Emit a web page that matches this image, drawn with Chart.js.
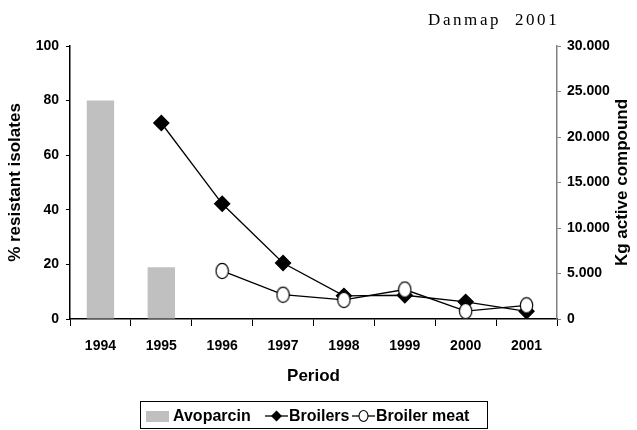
<!DOCTYPE html>
<html><head><meta charset="utf-8">
<script src="https://cdn.jsdelivr.net/npm/chart.js@4"></script>
<style>
html,body{margin:0;padding:0;background:#fff;}
#wrap{position:relative;width:637px;height:430px;}
#title{position:absolute;left:428px;top:10px;font-family:"Liberation Serif","Times New Roman",serif;font-size:17px;letter-spacing:2.6px;color:#000;white-space:pre;line-height:20px;}
#legend{position:absolute;left:140px;top:401px;width:348px;height:28px;border:1px solid #000;box-sizing:border-box;font-family:"Liberation Sans",Arial,sans-serif;font-weight:bold;font-size:16px;color:#000;white-space:nowrap;}
#legend .t{position:absolute;top:4px;line-height:19px;}
#legend svg{position:absolute;top:4px;}
</style></head>
<body><div id="wrap"><canvas id="c" width="637" height="430"></canvas>
<div id="title">Danmap  2001</div>
<div id="legend">
 <svg style="left:5px" width="24" height="19"><rect x="0" y="5" width="23" height="11" fill="#c0c0c0"/></svg><span class="t" style="left:32px">Avoparcin</span>
 <svg style="left:124px" width="24" height="19"><line x1="0" y1="10" x2="23" y2="10" stroke="#000" stroke-width="1.3"/><polygon points="11.5,4.5 17,10 11.5,15.5 6,10" fill="#000"/></svg><span class="t" style="left:148px">Broilers</span>
 <svg style="left:211px" width="24" height="19"><line x1="0" y1="10" x2="23" y2="10" stroke="#000" stroke-width="1.3"/><ellipse cx="11.5" cy="10" rx="4.5" ry="5.5" fill="#fff" stroke="#000" stroke-width="1.1"/></svg><span class="t" style="left:235px">Broiler meat</span>
</div>
</div>
<script>
const categories = ['1994','1995','1996','1997','1998','1999','2000','2001'];
const avoparcinKg = [24000, 5700, null, null, null, null, null, null];
const broilersPct = [null, 71.8, 42.2, 20.5, 8.5, 8.7, 6.3, 2.8];
const broilerMeatPct = [null, null, 17.6, 8.9, 7.0, 10.8, 2.9, 5.0];
const leftTicks = [0, 20, 40, 60, 80, 100];
const rightTicks = [0, 5000, 10000, 15000, 20000, 25000, 30000];

const tickFont = {family:'"Liberation Sans", Arial, sans-serif', size:14, weight:'bold'};
const titleFont = {family:'"Liberation Sans", Arial, sans-serif', size:17, weight:'bold'};

// open oval marker for "Broiler meat"
const oval = document.createElement('canvas');
oval.width = 15; oval.height = 18;
(function(){
  const g = oval.getContext('2d');
  g.beginPath(); g.ellipse(7.5, 9, 6.2, 7.7, 0, 0, Math.PI*2);
  g.fillStyle = '#fff'; g.fill(); g.lineWidth = 1.2; g.strokeStyle = '#000'; g.stroke();
})();

const rightTitle = {
  id:'rightTitle',
  afterDraw(chart){
    const ctx = chart.ctx, a = chart.chartArea;
    ctx.save();
    ctx.translate(622, (a.top + a.bottom)/2);
    ctx.rotate(-Math.PI/2);
    ctx.font = 'bold 17px "Liberation Sans", Arial, sans-serif';
    ctx.fillStyle = '#000'; ctx.textAlign = 'center'; ctx.textBaseline = 'middle';
    ctx.fillText('Kg active compound', 0, 0);
    ctx.restore();
  }
};

new Chart(document.getElementById('c'), {
  type: 'bar',
  data: {
    labels: categories,
    datasets: [
      {type:'line', label:'Broilers', data: broilersPct, yAxisID:'y', borderColor:'#000', borderWidth:1.3,
       backgroundColor:'#000', pointStyle:'rectRot', pointRadius:7.5, pointBorderColor:'#000', pointBackgroundColor:'#000', tension:0, order:1},
      {type:'line', label:'Broiler meat', data: broilerMeatPct, yAxisID:'y', borderColor:'#000', borderWidth:1.3,
       pointStyle: oval, pointRadius:7, tension:0, order:0},
      {type:'bar', label:'Avoparcin', data: avoparcinKg, yAxisID:'y1', backgroundColor:'#c0c0c0', barPercentage:0.45, categoryPercentage:1, order:2}
    ]
  },
  options: {
    responsive:false, animation:false, devicePixelRatio:1,
    layout:{padding:{top:46, bottom:41, left:0, right:0}},
    plugins:{legend:{display:false}, tooltip:{enabled:false}},
    scales:{
      x:{
        offset:true,
        grid:{display:true, drawOnChartArea:false, drawTicks:true, tickLength:7, color:'#000', lineWidth:1, offset:true},
        border:{display:true, color:'#000', width:1.5},
        ticks:{color:'#000', font:tickFont, padding:12, maxRotation:0},
        title:{display:true, text:'Period', color:'#000', font:titleFont, padding:{top:0,bottom:2}},
        afterFit(s){ s.height = 70; }
      },
      y:{
        position:'left', min:0, max:100,
        afterBuildTicks(s){ s.ticks = leftTicks.map(v=>({value:v})); },
        grid:{display:true, drawOnChartArea:false, drawTicks:true, tickLength:4, color:'#000'},
        border:{display:true, color:'#000', width:1.5},
        ticks:{color:'#000', font:tickFont, padding:7},
        title:{display:true, text:'% resistant isolates', color:'#000', font:titleFont, padding:{top:5,bottom:0}},
        afterFit(s){ s.width = 70; }
      },
      y1:{
        position:'right', min:0, max:30000,
        afterBuildTicks(s){ s.ticks = rightTicks.map(v=>({value:v})); },
        grid:{display:true, drawOnChartArea:false, drawTicks:true, tickLength:4, color:'#808080'},
        border:{display:true, color:'#808080', width:1.5},
        ticks:{color:'#000', font:tickFont, padding:6,
          callback(v){ return v===0 ? '0' : (v/1000).toFixed(3); }},
        title:{display:false},
        afterFit(s){ s.width = 80; }
      }
    }
  },
  plugins:[rightTitle]
});
</script>
</body></html>
